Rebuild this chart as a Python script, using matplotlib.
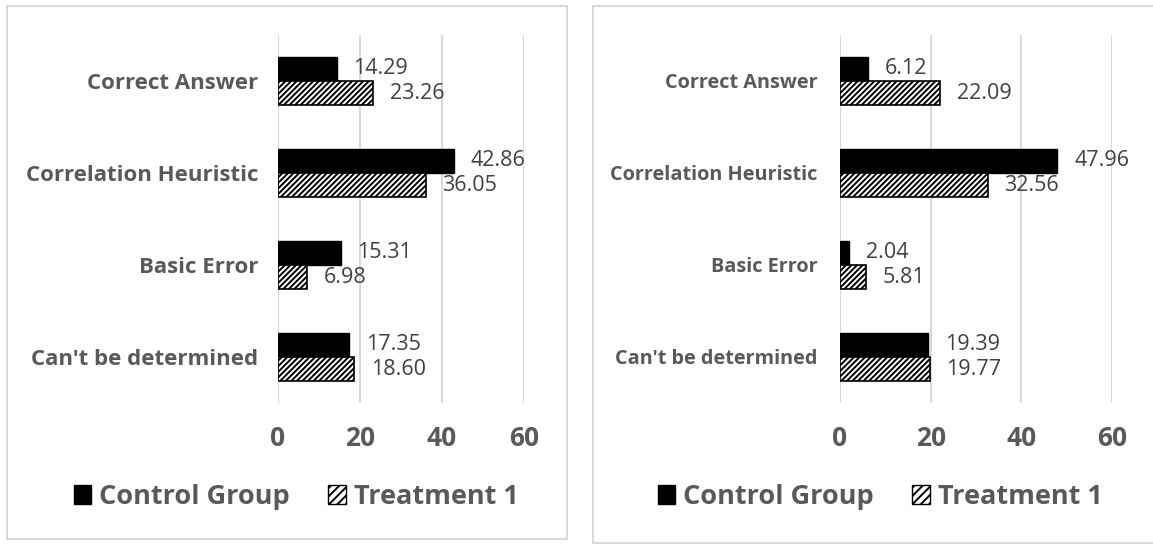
import matplotlib
matplotlib.use("Agg")
import matplotlib.pyplot as plt
from matplotlib.patches import Patch
from matplotlib.lines import Line2D
import numpy as np

# Datos
categories = ["Correct Answer", "Correlation Heuristic", "Basic Error", "Can't be determined"]
control_left = [14.29, 42.86, 15.31, 17.35]
treatment_left = [23.26, 36.05, 6.98, 18.60]
control_right = [6.12, 47.96, 2.04, 19.39]
treatment_right = [22.09, 32.56, 5.81, 19.77]
xticks = [0, 20, 40, 60]
series_names = ["Control Group", "Treatment 1"]

plt.rcParams['font.family'] = ['Open Sans', 'DejaVu Sans']
plt.rcParams['hatch.linewidth'] = 1.4

W, H = 1153, 544
fig = plt.figure(figsize=(W / 100, H / 100), dpi=100)

GRAY = '#595959'
VAL = '#404040'
GRID = '#d9d9d9'


def panel(x0, x60, control, treatment, cat_size, cat_pad, leg_x):
    ax = fig.add_axes([x0 / W, 1 - 403 / H, (x60 - x0) / W, 368 / H])
    y = np.arange(len(categories))
    h = 0.266
    ax.barh(y - h / 2, control, height=h, color='black', edgecolor='black', linewidth=1)
    ax.barh(y + h / 2, treatment, height=h, color='white', edgecolor='black',
            hatch='//////', linewidth=1.2)
    for yi, v in zip(y, control):
        ax.annotate(f"{v:.2f}", (v, yi - h / 2), xytext=(12, 0), textcoords='offset points',
                    ha='left', va='center', fontsize=15.5, color=VAL)
    for yi, v in zip(y, treatment):
        ax.annotate(f"{v:.2f}", (v, yi + h / 2), xytext=(12, 0), textcoords='offset points',
                    ha='left', va='center', fontsize=15.5, color=VAL)
    ax.set_xlim(0, 60)
    ax.set_ylim(len(categories) - 0.5, -0.5)
    ax.set_xticks(xticks)
    ax.set_yticks(y)
    ax.set_yticklabels(categories, fontsize=cat_size, fontweight='bold', color=GRAY)
    ax.set_xticklabels([str(t) for t in xticks], fontsize=19, fontweight='bold', color=GRAY)
    ax.tick_params(length=0)
    ax.tick_params(axis='y', pad=cat_pad)
    ax.tick_params(axis='x', pad=16)
    for s in ax.spines.values():
        s.set_visible(False)
    ax.grid(axis='x', color=GRID, linewidth=1.5)
    ax.set_axisbelow(True)
    handles = [Patch(facecolor='black', edgecolor='black'),
               Patch(facecolor='white', edgecolor='black', hatch='////')]
    fig.legend(handles, series_names, loc='center', bbox_to_anchor=(leg_x / W, 1 - 497 / H),
               ncol=2, frameon=False, handlelength=0.65, handleheight=0.65,
               handletextpad=0.3, columnspacing=1.4,
               prop={'weight': 'bold', 'size': 19.5}, labelcolor=GRAY)
    return ax


panel(278, 524, control_left, treatment_left, 16, 14, 296)
panel(840, 1112, control_right, treatment_right, 14.3, 16, 880)

# bordes
def fl(x, y):
    return Line2D([p / W for p in x], [1 - p / H for p in y], color=GRID, linewidth=1.5,
                  transform=fig.transFigure)

fig.add_artist(fl([7, 567, 567, 7, 7], [6, 6, 539, 539, 6]))
fig.add_artist(fl([1153, 593, 593, 1153], [6, 6, 543, 543]))

fig.savefig("out.png", dpi=100, facecolor='white')
